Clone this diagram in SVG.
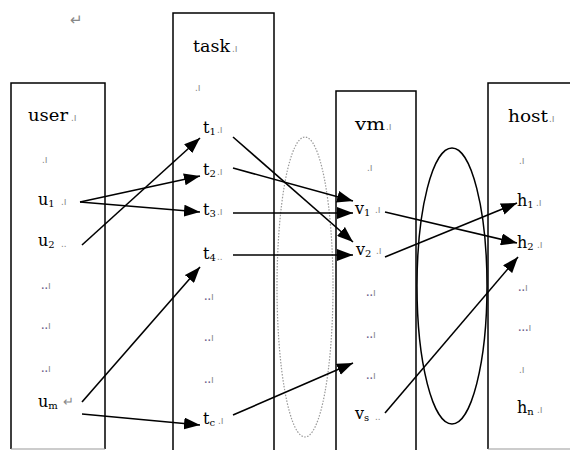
<svg xmlns="http://www.w3.org/2000/svg" width="570" height="450" viewBox="0 0 570 450">
<defs>
<marker id="ah" viewBox="0 0 16 12" refX="16" refY="6" markerWidth="16" markerHeight="12" markerUnits="userSpaceOnUse" orient="auto">
<path d="M0,0 L16,6 L0,12 z" fill="#000"/>
</marker>
<style>
.box{fill:none;stroke:#000;stroke-width:1.5}
.edge{fill:none;stroke:#999;stroke-width:1}
.t{font-family:"DejaVu Serif","Liberation Serif",serif;font-size:16px;fill:#000}
.h{font-family:"DejaVu Serif","Liberation Serif",serif;font-size:16px;fill:#000}
.s{font-size:10px}
.m{font-family:"Liberation Sans",Arial,sans-serif;font-size:10px;fill:#888}
.d{font-family:"Liberation Serif",serif;font-size:14px;fill:#6a5a8a}
.c{fill:none;stroke:#000;stroke-width:1.6;marker-end:url(#ah)}
</style>
</defs>
<rect width="570" height="450" fill="#fff"/>
<text x="70" y="25" class="m" style="font-size:15px">↵</text>

<g id="user">
<path class="box" d="M11,449 L11,83 L105,83 L105,449"/>
<path class="edge" d="M11,449 L105,449"/>
<text x="28" y="121" class="h" textLength="40" lengthAdjust="spacingAndGlyphs">user</text><text x="71" y="121" class="m">.ı</text>
<text x="42" y="163" class="m">.ı</text>
<text x="38" y="205" class="t">u<tspan class="s" dy="2">1</tspan></text><text x="61" y="205" class="m">.ı</text>
<text x="38" y="246" class="t">u<tspan class="s" dy="2">2</tspan></text><text x="61" y="247" class="m">..</text>
<text x="41" y="289" class="d">..<tspan class="m">ı</tspan></text>
<text x="41" y="329" class="d">..<tspan class="m">ı</tspan></text>
<text x="41" y="372" class="d">..<tspan class="m">ı</tspan></text>
<text x="38" y="407" class="t">u<tspan class="s" dy="2">m</tspan></text><text x="63" y="406" class="m" style="font-size:13px">↵</text>
</g>

<g id="task">
<path class="box" d="M173,452 L173,13 L274,13 L274,452"/>
<text x="193" y="52" class="h" textLength="37" lengthAdjust="spacingAndGlyphs">task</text><text x="232" y="52" class="m">.ı</text>
<text x="195" y="91" class="m">.ı</text>
<text x="203" y="133" class="t">t<tspan class="s" dy="2">1</tspan></text><text x="217" y="133" class="m">.ı</text>
<text x="203" y="175" class="t">t<tspan class="s" dy="2">2</tspan></text><text x="217" y="175" class="m">.ı</text>
<text x="203" y="215" class="t">t<tspan class="s" dy="2">3</tspan></text><text x="217" y="215" class="m">.ı</text>
<text x="203" y="259" class="t">t<tspan class="s" dy="2">4</tspan></text><text x="217" y="260" class="m">..</text>
<text x="204" y="300" class="d">..<tspan class="m">ı</tspan></text>
<text x="204" y="341" class="d">..<tspan class="m">ı</tspan></text>
<text x="204" y="383" class="d">..<tspan class="m">ı</tspan></text>
<text x="203" y="424" class="t">t<tspan class="s" dy="2">c</tspan></text><text x="218" y="424" class="m">.ı</text>
</g>

<g id="vm">
<path class="box" d="M336,452 L336,91 L416,91 L416,452"/>
<text x="355" y="130" class="h" textLength="30" lengthAdjust="spacingAndGlyphs">vm</text><text x="386" y="130" class="m">.ı</text>
<text x="367" y="171" class="m">.ı</text>
<text x="355" y="214" class="t">v<tspan class="s" dy="2">1</tspan></text><text x="375" y="213" class="m">.ı</text>
<text x="356" y="255" class="t">v<tspan class="s" dy="2">2</tspan></text><text x="376" y="254" class="m">.ı</text>
<text x="366" y="296" class="d">..<tspan class="m">ı</tspan></text>
<text x="366" y="338" class="d">..<tspan class="m">ı</tspan></text>
<text x="366" y="379" class="d">..<tspan class="m">ı</tspan></text>
<text x="355" y="419" class="t">v<tspan class="s" dy="2">s</tspan></text><text x="375" y="420" class="m">..</text>
</g>

<g id="host">
<path class="box" d="M488,449 L488,83 L572,83"/>
<path class="edge" d="M488,449 L570,449"/>
<text x="508" y="122" class="h" textLength="40" lengthAdjust="spacingAndGlyphs">host</text><text x="549" y="122" class="m">.ı</text>
<text x="519" y="164" class="m">.ı</text>
<text x="517" y="206" class="t">h<tspan class="s" dy="2">1</tspan></text><text x="536" y="206" class="m">.ı</text>
<text x="517" y="248" class="t">h<tspan class="s" dy="2">2</tspan></text><text x="537" y="248" class="m">.ı</text>
<text x="518" y="291" class="d">..<tspan class="m">ı</tspan></text>
<text x="518" y="331" class="d">...<tspan class="m">ı</tspan></text>
<text x="519" y="373" class="m">.ı</text>
<text x="517" y="413" class="t">h<tspan class="s" dy="2">n</tspan></text><text x="537" y="413" class="m">.ı</text>
</g>

<g id="groups">
<ellipse cx="305" cy="287" rx="28" ry="150" fill="none" stroke="#999" stroke-width="1.2" stroke-dasharray="1.5,1.5"/>
<ellipse cx="452" cy="286" rx="35" ry="138" fill="none" stroke="#000" stroke-width="1.5"/>
</g>

<g id="connectors">
<line class="c" x1="80" y1="202" x2="200" y2="176"/>
<line class="c" x1="80" y1="202" x2="200" y2="212"/>
<line class="c" x1="82" y1="245" x2="200" y2="138"/>
<line class="c" x1="82" y1="402" x2="200" y2="267"/>
<line class="c" x1="82" y1="414" x2="200" y2="425"/>
<line class="c" x1="233" y1="137" x2="353" y2="242"/>
<line class="c" x1="233" y1="168" x2="353" y2="201"/>
<line class="c" x1="233" y1="213" x2="353" y2="213"/>
<line class="c" x1="233" y1="255" x2="353" y2="255"/>
<line class="c" x1="233" y1="415" x2="353" y2="363"/>
<line class="c" x1="385" y1="212" x2="517" y2="243"/>
<line class="c" x1="385" y1="257" x2="517" y2="203"/>
<line class="c" x1="385" y1="413" x2="518" y2="257"/>
</g>
</svg>
